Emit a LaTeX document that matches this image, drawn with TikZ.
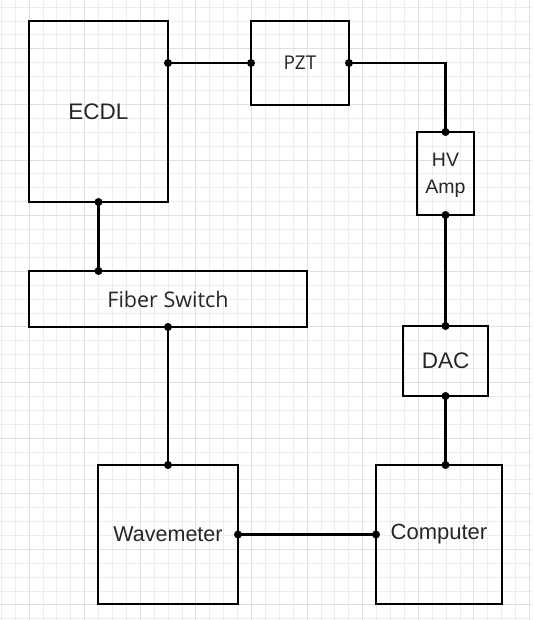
\documentclass[tikz,border=0pt]{standalone}
\usepackage{fontspec}
\setmainfont{Liberation Sans}
\newfontfamily\segoe{Open Sans}
\begin{document}
\begin{tikzpicture}[x=1pt,y=-1pt,
  blk/.style={draw=black, line width=2.2pt, fill=none, inner sep=0pt, outer sep=0pt, align=center, text=black!85},
  wire/.style={draw=black, line width=2.2pt},
  dot/.style={fill=black, radius=4pt}]
\useasboundingbox (0,0) rectangle (532,620);
\fill[white] (0,0) rectangle (532,620);
% grid
\foreach \k in {0,...,38} {
  \draw[line width=0.8pt, color=black!7] ({1.2+\k*13.9},0) -- ({1.2+\k*13.9},620);
}
\foreach \k in {0,...,44} {
  \draw[line width=0.8pt, color=black!7] (0,{7.1+\k*13.9}) -- (532,{7.1+\k*13.9});
}
\foreach \k in {0,...,9} {
  \draw[line width=0.9pt, color=black!12] ({29+\k*55.6},0) -- ({29+\k*55.6},620);
}
\foreach \k in {0,...,10} {
  \draw[line width=0.9pt, color=black!12] (0,{48.8+\k*55.6}) -- (532,{48.8+\k*55.6});
}
% blocks
\node[blk, minimum width=139pt, minimum height=181pt, font=\fontsize{22.5}{26}\selectfont] (ecdl) at (98.5,111.5) {ECDL};
\node[blk, minimum width=98pt, minimum height=84pt, font=\segoe\fontsize{19}{22}\selectfont] (pzt) at (300,63) {PZT};
\node[blk, minimum width=57pt, minimum height=83pt] (hv) at (445.5,173.5) {};
\node[font=\fontsize{19.5}{26.7}\selectfont, align=center, inner sep=0pt, text=black!85] (hvt) at (445.5,175) {HV\\Amp};
\node[blk, minimum width=278pt, minimum height=56pt, font=\segoe\fontsize{21.5}{24}\selectfont] (fiber) at (168,299) {Fiber Switch};
\node[blk, minimum width=85pt, minimum height=70pt, font=\fontsize{22.5}{26}\selectfont] (dac) at (445.5,361) {DAC};
\node[blk, minimum width=140pt, minimum height=139pt, font=\fontsize{21.5}{26}\selectfont] (wave) at (168,534.5) {Wavemeter};
\node[blk, minimum width=126pt, minimum height=139pt, font=\fontsize{22}{26}\selectfont] (comp) at (439,534.5) {Computer};
% connectors
\coordinate (e1) at (pzt.west -| ecdl.east);
\coordinate (e2) at (ecdl.south |- fiber.north);
\coordinate (e3) at (dac.south |- comp.north);
\draw[wire] (e1) -- (pzt.west);
\draw[wire] (pzt.east) -| (hv.north);
\draw[wire] (hv.south) -- (dac.north);
\draw[wire] (dac.south) -- (e3);
\draw[wire] (ecdl.south) -- (e2);
\draw[wire] (fiber.south) -- (wave.north);
\draw[wire] (wave.east) -- (comp.west);
% dots
\foreach \p in {e1, pzt.west, pzt.east, hv.north, hv.south, dac.north, dac.south, e3, ecdl.south, e2, fiber.south, wave.north, wave.east, comp.west}
  \fill[dot] (\p) circle;
\end{tikzpicture}
\end{document}
